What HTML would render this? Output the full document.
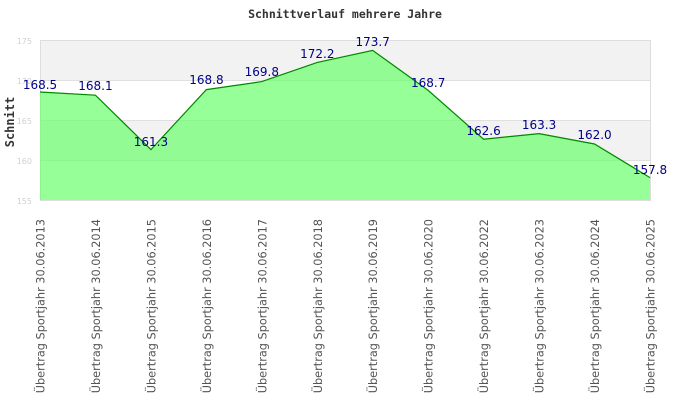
<!DOCTYPE html>
<html><head><meta charset="utf-8"><style>html,body{margin:0;padding:0;background:#fff}svg{display:block}</style></head>
<body>
<svg width="690" height="420" xmlns="http://www.w3.org/2000/svg">
<rect x="40" y="40" width="610" height="40" fill="#f2f2f2"/>
<rect x="40" y="120" width="610" height="40" fill="#f2f2f2"/>
<g stroke="#e0e0e0" stroke-width="1">
<line x1="40" y1="80.5" x2="650" y2="80.5"/><line x1="40" y1="120.5" x2="650" y2="120.5"/><line x1="40" y1="160.5" x2="650" y2="160.5"/>
</g>
<rect x="40.5" y="40.5" width="610" height="160" fill="none" stroke="#dddddd"/>
<polygon fill="#66ff66" fill-opacity="0.68" points="40,200 40,92 95.45,95.2 150.9,149.6 206.4,89.6 261.8,81.6 317.3,62.4 372.7,50.4 428.2,90.4 483.6,139.2 539.1,133.6 594.5,144 650,177.6 650,200"/>
<polyline fill="none" stroke="#008800" stroke-width="1.2" points="40,92 95.45,95.2 150.9,149.6 206.4,89.6 261.8,81.6 317.3,62.4 372.7,50.4 428.2,90.4 483.6,139.2 539.1,133.6 594.5,144 650,177.6"/>
<g font-family="DejaVu Sans, sans-serif" font-size="8" fill="#d0d0d0" text-anchor="end">
<text x="32" y="44">175</text><text x="32" y="84">170</text><text x="32" y="124">165</text><text x="32" y="164">160</text><text x="32" y="204">155</text>
</g>
<g font-family="DejaVu Sans, sans-serif" font-size="12" fill="#000088" text-anchor="middle">
<text x="40" y="89">168.5</text><text x="95.45" y="90">168.1</text><text x="150.9" y="146">161.3</text><text x="206.4" y="84">168.8</text><text x="261.8" y="76">169.8</text><text x="317.3" y="58">172.2</text><text x="372.7" y="46">173.7</text><text x="428.2" y="87">168.7</text><text x="483.6" y="135">162.6</text><text x="539.1" y="129">163.3</text><text x="594.5" y="139">162.0</text><text x="650" y="174">157.8</text>
</g>
<text x="345" y="18" font-family="DejaVu Sans Mono, monospace" font-weight="bold" font-size="11.5" text-anchor="middle" fill="#333">Schnittverlauf mehrere Jahre</text>
<text transform="translate(14,122) rotate(-90)" font-family="DejaVu Sans Mono, monospace" font-weight="bold" font-size="12" text-anchor="middle" fill="#333">Schnitt</text>
<g font-family="DejaVu Sans, sans-serif" font-size="11.3" fill="#555" text-anchor="end">
<text transform="translate(44.5,219) rotate(-90)">Übertrag Sportjahr 30.06.2013</text>
<text transform="translate(99.9,219) rotate(-90)">Übertrag Sportjahr 30.06.2014</text>
<text transform="translate(155.4,219) rotate(-90)">Übertrag Sportjahr 30.06.2015</text>
<text transform="translate(210.9,219) rotate(-90)">Übertrag Sportjahr 30.06.2016</text>
<text transform="translate(266.3,219) rotate(-90)">Übertrag Sportjahr 30.06.2017</text>
<text transform="translate(321.8,219) rotate(-90)">Übertrag Sportjahr 30.06.2018</text>
<text transform="translate(377.2,219) rotate(-90)">Übertrag Sportjahr 30.06.2019</text>
<text transform="translate(432.7,219) rotate(-90)">Übertrag Sportjahr 30.06.2020</text>
<text transform="translate(488.1,219) rotate(-90)">Übertrag Sportjahr 30.06.2022</text>
<text transform="translate(543.6,219) rotate(-90)">Übertrag Sportjahr 30.06.2023</text>
<text transform="translate(599,219) rotate(-90)">Übertrag Sportjahr 30.06.2024</text>
<text transform="translate(654.5,219) rotate(-90)">Übertrag Sportjahr 30.06.2025</text>
</g>
</svg>
</body></html>
